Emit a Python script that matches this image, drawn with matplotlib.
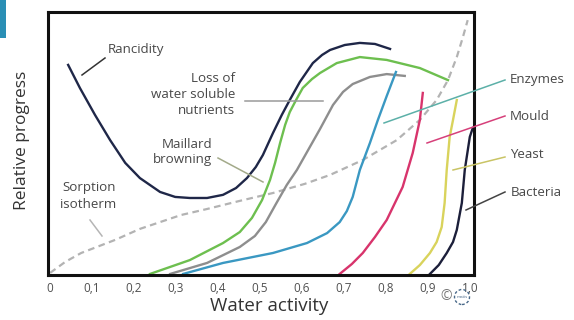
import matplotlib.pyplot as plt
from matplotlib.patches import Rectangle, Ellipse

plt.rcParams['font.family'] = ['Open Sans', 'DejaVu Sans']

# water activity (x) and relative progress (y) for each process
rancidity_x = [0.043, 0.071, 0.107, 0.143, 0.179, 0.214, 0.262, 0.298, 0.333, 0.374,
               0.412, 0.443, 0.469, 0.490, 0.507, 0.531, 0.552, 0.571, 0.595, 0.626,
               0.648, 0.667, 0.702, 0.738, 0.774, 0.810]
rancidity_y = [0.798, 0.710, 0.607, 0.511, 0.424, 0.366, 0.313, 0.294, 0.290, 0.290,
               0.302, 0.328, 0.366, 0.408, 0.454, 0.538, 0.607, 0.664, 0.733, 0.805,
               0.836, 0.855, 0.874, 0.882, 0.878, 0.859]

maillard_x = [0.238, 0.333, 0.412, 0.452, 0.481, 0.505, 0.524, 0.536, 0.548, 0.560,
              0.571, 0.586, 0.602, 0.624, 0.643, 0.683, 0.738, 0.802, 0.881, 0.948]
maillard_y = [0.000, 0.053, 0.118, 0.160, 0.214, 0.282, 0.359, 0.424, 0.500, 0.569,
              0.618, 0.664, 0.710, 0.744, 0.767, 0.805, 0.828, 0.817, 0.786, 0.740]

nutrients_x = [0.286, 0.374, 0.452, 0.488, 0.514, 0.538, 0.564, 0.588, 0.619, 0.643,
               0.674, 0.698, 0.721, 0.762, 0.802, 0.845]
nutrients_y = [0.000, 0.042, 0.103, 0.145, 0.198, 0.267, 0.340, 0.397, 0.485, 0.553,
               0.645, 0.695, 0.725, 0.752, 0.763, 0.756]

enzymes_x = [0.317, 0.412, 0.531, 0.612, 0.660, 0.690, 0.707, 0.721, 0.738, 0.762,
             0.781, 0.802, 0.824]
enzymes_y = [0.000, 0.042, 0.080, 0.118, 0.156, 0.198, 0.240, 0.294, 0.397, 0.500,
             0.588, 0.679, 0.771]

mould_x = [0.690, 0.719, 0.745, 0.774, 0.802, 0.840, 0.864, 0.881, 0.888]
mould_y = [0.000, 0.038, 0.080, 0.141, 0.206, 0.332, 0.462, 0.588, 0.691]

yeast_x = [0.857, 0.881, 0.905, 0.921, 0.933, 0.940, 0.945, 0.952, 0.960, 0.969]
yeast_y = [0.000, 0.034, 0.080, 0.122, 0.179, 0.271, 0.397, 0.523, 0.588, 0.664]

bacteria_x = [0.905, 0.926, 0.945, 0.960, 0.969, 0.981, 0.988, 1.000, 1.007]
bacteria_y = [0.000, 0.034, 0.080, 0.122, 0.168, 0.271, 0.397, 0.523, 0.557]

sorption_x = [0.000, 0.036, 0.074, 0.155, 0.214, 0.312, 0.374, 0.452, 0.531, 0.607,
              0.667, 0.745, 0.826, 0.881, 0.921, 0.948, 0.969, 0.983, 0.995]
sorption_y = [0.004, 0.046, 0.080, 0.130, 0.172, 0.225, 0.248, 0.279, 0.309, 0.344,
              0.378, 0.435, 0.511, 0.588, 0.664, 0.740, 0.828, 0.901, 0.969]

tick_values = [0, 0.1, 0.2, 0.3, 0.4, 0.5, 0.6, 0.7, 0.8, 0.9, 1.0]
tick_labels = ['0', '0,1', '0,2', '0,3', '0,4', '0,5', '0,6', '0,7', '0,8', '0,9', '1,0']

W, H = 574, 320


def fx(px):
    return px / W


def fy(py):
    return 1 - py / H


fig = plt.figure(figsize=(W / 100, H / 100), dpi=100)
ax = fig.add_axes([fx(48), fy(275), (474 - 48) / W, (275 - 12) / H])

lw = 1.7
ax.plot(sorption_x, sorption_y, color='#b3b3b3', lw=1.6, dashes=(3, 2))
ax.plot(rancidity_x, rancidity_y, color='#1f2748', lw=lw)
ax.plot(maillard_x, maillard_y, color='#6dbf4f', lw=lw)
ax.plot(nutrients_x, nutrients_y, color='#8e8e8e', lw=lw)
ax.plot(enzymes_x, enzymes_y, color='#3a98c2', lw=lw)
ax.plot(mould_x, mould_y, color='#d8346c', lw=lw)
ax.plot(yeast_x, yeast_y, color='#d9d35c', lw=lw)
ax.plot(bacteria_x, bacteria_y, color='#1c1f3a', lw=lw)

ax.set_xlim(-0.005, 1.01)
ax.set_ylim(-0.004, 1.0)
ax.set_yticks([])
ax.set_xticks(tick_values)
ax.set_xticklabels(tick_labels, fontsize=8.5, color='#505050')
ax.tick_params(axis='x', length=0, pad=5)
for s in ax.spines.values():
    s.set_linewidth(2.2)
    s.set_color('#111111')

# labels and leader lines, placed in figure pixels
def label(px, py, txt, ha='left', size=9.6, color='#484848', align='left'):
    fig.text(fx(px), fy(py), txt, ha=ha, va='center', fontsize=size, color=color,
             linespacing=1.3, multialignment=align)


def leader(x0, y0, x1, y1, color):
    fig.add_artist(plt.Line2D([fx(x0), fx(x1)], [fy(y0), fy(y1)], color=color, lw=1.1,
                              transform=fig.transFigure))


label(108, 50, 'Rancidity')
leader(82, 75, 105, 58, '#333333')

label(235, 94, 'Loss of\nwater soluble\nnutrients', ha='right', align='right')
leader(245, 101, 323, 101, '#9a9a9a')

label(212, 152, 'Maillard\nbrowning', ha='right', align='right')
leader(218, 158, 263, 182, '#a3aa8a')

label(116, 196, 'Sorption\nisotherm', ha='right', align='right')
leader(90, 220, 102, 236, '#b5b5b5')

label(510, 79, 'Enzymes')
leader(384, 123, 505, 80, '#5cb0a8')
label(510, 116, 'Mould')
leader(427, 143, 505, 116, '#d6407a')
label(510, 155, 'Yeast')
leader(453, 170, 505, 157, '#c9c465')
label(511, 193, 'Bacteria')
leader(466, 210, 505, 192, '#444444')

fig.text(fx(269), fy(306), 'Water activity', ha='center', va='center', fontsize=13.5,
         color='#333333')
fig.text(fx(22), fy(140), 'Relative progress', ha='center', va='center', fontsize=12.5,
         color='#333333', rotation=90)

# copyright mark and small logo
fig.text(fx(446), fy(297), '\u00a9', ha='center', va='center', fontsize=10, color='#777777')
fig.add_artist(Ellipse((fx(462), fy(297)), 15 / W, 15 / H, transform=fig.transFigure,
                       fill=False, ec='#4a6a8a', lw=1, ls=(0, (2, 1.5))))
fig.text(fx(462), fy(297), 'matis', ha='center', va='center', fontsize=3.2, color='#4a6a8a')

# blue tab in the corner
fig.add_artist(Rectangle((0, fy(38)), fx(6), 38 / H, transform=fig.transFigure,
                         color='#2a8fb5', lw=0))

fig.savefig('out.png', dpi=100)
